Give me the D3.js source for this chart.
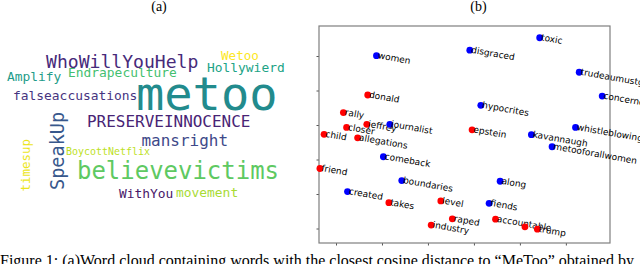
<!DOCTYPE html>
<html lang="en">
<head>
<meta charset="UTF-8">
<title>metoo word cloud and embedding</title>
<script src="https://cdn.jsdelivr.net/npm/d3@7"></script>
<style>
  body { margin: 0; background: #fff; }
  svg { display: block; }
  .panel-title { font-family: "Liberation Serif", serif; font-size: 14px; fill: #000; }
  .caption { font-family: "Liberation Serif", serif; font-size: 16px; fill: #000; }
  .cloud text { font-family: "DejaVu Sans Mono", monospace; }
  .lbl { font-family: "DejaVu Sans", sans-serif; font-size: 9px; fill: #000; }
  .frame { fill: none; stroke: #7f7f7f; stroke-width: 1.2; }
  .axis path { display: none; }
  .axis line { stroke: #555; }
</style>
</head>
<body>
<div id="chart"></div>
<script>

// (a) word cloud: words, relative weight, colour position on viridis
var cloudWords = ["metoo", "believevictims", "WhoWillYouHelp", "SpeakUp", "PRESERVEINNOCENCE",
  "mansright", "falseaccusations", "Endrapeculture", "Amplify", "Hollywierd", "Wetoo",
  "WithYou", "movement", "timesup", "BoycottNetflix"];
var cloudWeights = [1.0, 0.51, 0.385, 0.395, 0.34, 0.34, 0.275, 0.275, 0.275, 0.275, 0.268,
  0.275, 0.275, 0.265, 0.212];
var cloudTones = [0.48, 0.75, 0.12, 0.27, 0.1, 0.22, 0.15, 0.7, 0.55, 0.58, 1.0,
  0.06, 0.87, 0.97, 0.9];

// (b) embedding: word, x, y, group (1 = red, 0 = blue)
var embWords = ["toxic", "disgraced", "women", "trudeaumustgo", "concerned", "donald",
  "hypocrites", "rally", "jeffrey", "journalist", "closer", "child", "allegations",
  "whistleblowing", "epstein", "kavannaugh", "metooforallwomen", "comeback", "friend",
  "boundaries", "along", "created", "takes", "level", "fiends", "raped", "accountable",
  "industry", "", "trump"];
var embX = [14.3, -0.9, -21.2, 22.9, 27.9, -23.1, 1.5, -28.4, -23.3, -18.3, -27.7, -32.6, -25.3,
  22.1, -0.4, 12.5, 17.0, -19.7, -33.5, -15.7, 5.7, -27.5, -18.5, -7.2, 3.3, -4.7, 4.7,
  -9.3, 11.1, 13.8];
var embY = [35.3, 31.7, 30.1, 25.3, 18.4, 18.7, 15.7, 13.6, 10.2, 10.2, 9.3, 7.3, 6.3,
  9.3, 8.6, 7.2, 3.7, 0.8, -2.6, -6.1, -6.3, -9.3, -12.5, -12.0, -12.7, -17.2, -17.3,
  -19.0, -19.5, -20.2];
var embGroup = [0, 0, 0, 0, 0, 1, 0, 1, 1, 0, 1, 1, 1, 0, 1, 0, 0, 0, 1, 0, 0, 0, 1, 1, 0,
  1, 1, 1, 1, 1];
var xTicks = [-30, -20, -10, 0, 10, 20];
var yTicks = [-20, -10, 0, 10, 20, 30];

var width = 640, height = 264;

var svg = d3.select('#chart').append('svg')
  .attr('width', width)
  .attr('height', height);

// titles and caption (caption runs off the bottom edge, as in the source figure)
svg.append('text').attr('class', 'panel-title')
  .attr('x', 159).attr('y', 11).attr('text-anchor', 'middle').text('(a)');
svg.append('text').attr('class', 'panel-title')
  .attr('x', 478.5).attr('y', 11).attr('text-anchor', 'middle').text('(b)');
svg.append('text').attr('class', 'caption')
  .attr('x', 0).attr('y', 266)
  .text('Figure 1: (a)Word cloud containing words with the closest cosine distance to \u201cMeToo\u201d obtained by');

// ---- word cloud ----
// placement of each word (start x, baseline y, rotation) as produced by the cloud layout
var cloudPlace = [
  [136, 109.5, 0], [77, 178.5, 0], [46, 68, 0], [63.5, 190, -90], [87, 126.5, 0],
  [141.5, 146, 0], [13, 100, 0], [68, 77.3, 0], [7, 81, 0], [207, 72, 0], [221, 60, 0],
  [119, 197.5, 0], [176, 197, 0], [29.5, 191.5, -90], [66, 155, 0]
];
var fontScale = d3.scaleLinear().domain([0, 1]).range([0, 47]);

svg.append('g').attr('class', 'cloud')
  .selectAll('text')
  .data(cloudWords)
  .enter()
  .append('text')
  .attr('transform', function (d, i) {
    var p = cloudPlace[i];
    return 'translate(' + p[0] + ',' + p[1] + ') rotate(' + p[2] + ')';
  })
  .style('font-size', function (d, i) { return fontScale(cloudWeights[i]) + 'px'; })
  .style('fill', function (d, i) { return d3.interpolateViridis(cloudTones[i]); })
  .text(function (d) { return d; });

// ---- embedding scatter ----
var plot = { left: 319, right: 610, top: 26, bottom: 243 };

var x = d3.scaleLinear().domain([-33.7, 29.6]).range([plot.left, plot.right]);
var y = d3.scaleLinear().domain([-24.2, 38.7]).range([plot.bottom, plot.top]);

svg.append('g').attr('class', 'axis')
  .attr('transform', 'translate(0,' + plot.bottom + ')')
  .call(d3.axisBottom(x).tickValues(xTicks).tickSize(2.5).tickFormat(''));

svg.append('g').attr('class', 'axis')
  .attr('transform', 'translate(' + plot.left + ',0)')
  .call(d3.axisLeft(y).tickValues(yTicks).tickSize(2.5).tickFormat(''));

svg.append('rect').attr('class', 'frame')
  .attr('x', plot.left).attr('y', plot.top)
  .attr('width', plot.right - plot.left)
  .attr('height', plot.bottom - plot.top);

var pts = svg.append('g').selectAll('g.pt')
  .data(embWords)
  .enter()
  .append('g')
  .attr('class', 'pt');

pts.append('circle')
  .attr('cx', function (d, i) { return x(embX[i]); })
  .attr('cy', function (d, i) { return y(embY[i]); })
  .attr('r', 3.4)
  .style('fill', function (d, i) { return embGroup[i] ? '#ff0000' : '#0000ff'; });

pts.append('text')
  .attr('class', 'lbl')
  .attr('transform', function (d, i) {
    return 'translate(' + (x(embX[i]) + 1) + ',' + (y(embY[i]) + 2.5) + ') rotate(10)';
  })
  .text(function (d) { return d; });

</script>
</body>
</html>
